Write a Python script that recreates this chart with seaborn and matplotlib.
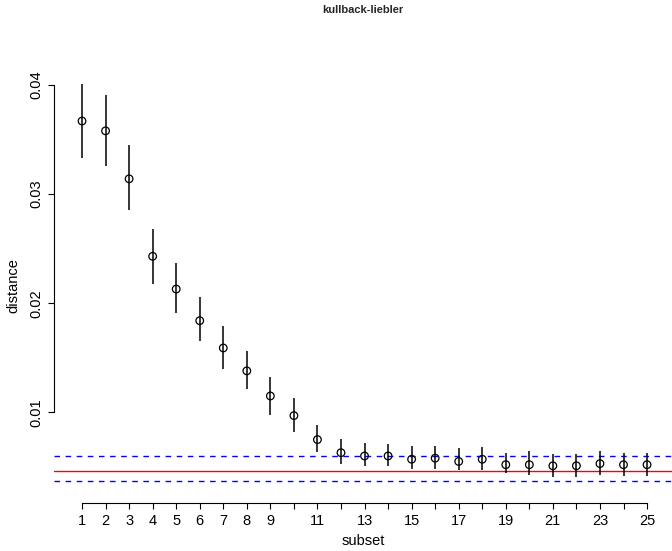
import numpy as np
import pandas as pd
import matplotlib
matplotlib.use("Agg")
import matplotlib.pyplot as plt
import seaborn as sns

# ---- data ----
subset = list(range(1, 26))
distance = [0.0367, 0.0358, 0.0314, 0.0243, 0.0213, 0.0184, 0.0159, 0.0138, 0.0115, 0.0097,
            0.0075, 0.0063, 0.0060, 0.0060, 0.0057, 0.0058, 0.0055, 0.0057, 0.0052, 0.0052,
            0.0051, 0.0051, 0.0053, 0.0052, 0.0052]
lower = [0.0333, 0.0326, 0.0285, 0.0218, 0.0191, 0.0165, 0.0140, 0.0121, 0.0098, 0.0082,
         0.0064, 0.0053, 0.0051, 0.0051, 0.0048, 0.0048, 0.0047, 0.0047, 0.0044, 0.0043,
         0.0041, 0.0041, 0.0043, 0.0042, 0.0042]
upper = [0.0401, 0.0391, 0.0345, 0.0268, 0.0237, 0.0206, 0.0179, 0.0156, 0.0132, 0.0113,
         0.0088, 0.0076, 0.0072, 0.0071, 0.0069, 0.0069, 0.0067, 0.0068, 0.0063, 0.0065,
         0.0062, 0.0062, 0.0065, 0.0063, 0.0063]
ref_line = 0.00465
band_upper = 0.0060
band_lower = 0.00368
x_ticks = list(range(1, 26))
x_ticklabels = [str(i) if (i <= 9 or i % 2 == 1) else "" for i in x_ticks]
y_ticks = [0.01, 0.02, 0.03, 0.04]
y_ticklabels = ["0.01", "0.02", "0.03", "0.04"]

df = pd.DataFrame({"subset": subset, "distance": distance})

sns.set_theme(style="white")
plt.rcParams["font.family"] = ["Liberation Sans", "DejaVu Sans"]

fig = plt.figure(figsize=(6.72, 5.51), dpi=100)
W, H = 672, 551
left_px, right_px, top_px, bottom_px = 54, 672, 68, 503
ax = fig.add_axes([left_px / W, 1 - bottom_px / H,
                   (right_px - left_px) / W, (bottom_px - top_px) / H])

# reference lines
ax.axhline(ref_line, color="#ff0000", lw=1.0, zorder=1)
ax.axhline(band_upper, color="#0000ff", lw=1.0, ls=(0, (4, 4)), zorder=1)
ax.axhline(band_lower, color="#0000ff", lw=1.0, ls=(0, (4, 4)), zorder=1)

# error bars
ax.vlines(subset, lower, upper, color="black", lw=1.1, zorder=2)

# points
sns.scatterplot(data=df, x="subset", y="distance", ax=ax, marker="o", s=30,
                facecolor="none", edgecolor="black", linewidth=0.9, zorder=3)

ax.set_xlim(-0.19, 26.06)
ax.set_ylim(0.00169, 0.04156)

for s in ["top", "right"]:
    ax.spines[s].set_visible(False)
for s in ["left", "bottom"]:
    ax.spines[s].set_color("black")
    ax.spines[s].set_linewidth(0.8)
ax.spines["left"].set_bounds(0.01, 0.04)
ax.spines["bottom"].set_bounds(1, 25)

ax.set_xticks(x_ticks)
ax.set_xticklabels(x_ticklabels)
ax.set_yticks(y_ticks)
ax.set_yticklabels(y_ticklabels)
ax.tick_params(axis="both", direction="out", length=4, width=0.8, color="black",
               labelsize=10.5, labelcolor="black", pad=4, bottom=True, left=True)
ax.tick_params(axis="y", labelrotation=90)
for lab in ax.get_yticklabels():
    lab.set_va("center")

ax.set_xlabel("subset", fontsize=10.5, color="black")
ax.set_ylabel("distance", fontsize=10.5, color="black")
ax.xaxis.label.set_va("center")
ax.yaxis.label.set_va("center")
ax.xaxis.set_label_coords(0.5, (bottom_px - 541) / (bottom_px - top_px))
ax.yaxis.set_label_coords((13 - left_px) / (right_px - left_px), 0.5)
ax.grid(False)

fig.text(0.5 * (left_px + right_px) / W + 0.0, 1 - 10 / H, "kullback-liebler",
         ha="center", va="center", fontsize=8, fontweight="bold")

fig.savefig("out.png", dpi=100)
